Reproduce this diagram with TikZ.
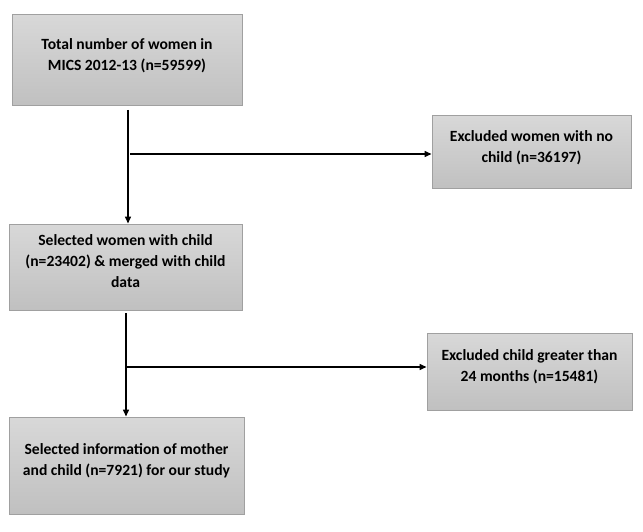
\documentclass[tikz,border=0pt]{standalone}
\usepackage{fontspec}
\setmainfont{Carlito}
\usetikzlibrary{arrows.meta,calc}
\definecolor{boxtop}{RGB}{216,216,216}
\definecolor{boxbottom}{RGB}{192,192,192}
\definecolor{boxline}{RGB}{160,160,160}

\begin{document}
\begin{tikzpicture}[
  x=1pt, y=1pt,
  mybox/.style={
    draw=boxline,
    line width=1pt,
    rectangle,
    top color=boxtop,
    bottom color=boxbottom,
    align=center,
    font=\fontsize{15.6}{21}\selectfont\bfseries,
    inner sep=0pt,
    text depth=12pt
    },
  myarrow/.style={line width=1.5pt, -{Triangle[length=7pt,width=6pt]}}
]
\useasboundingbox (0,0) rectangle (643,-532);

\node [mybox, minimum width=230, minimum height=91] (total) at (127,-60.5)
  {Total number of women in\\MICS 2012-13 (n=59599)};
\node [mybox, minimum width=199, minimum height=73] (excla) at (531.5,-152.5)
  {Excluded women with no\\child (n=36197)};
\node [mybox, minimum width=233, minimum height=86] (sel) at (125.5,-267)
  {Selected women with child\\(n=23402) \& merged with child\\data};
\node [mybox, minimum width=205, minimum height=77] (exclb) at (529.5,-371.5)
  {Excluded child greater than\\24 months (n=15481)};
\node [mybox, minimum width=235, minimum height=97] (final) at (126.5,-465.5)
  {Selected information of mother\\and child (n=7921) for our study};

% first step
\coordinate (ta) at (128,-110);
\coordinate (ba) at (130,-154);
\draw [myarrow] (ta) -- (ta |- sel.north);
\draw [myarrow] (ba) -- (ba -| excla.west);

% second step
\coordinate (tb) at (126,-313);
\coordinate (bb) at (126,-367);
\draw [myarrow] (tb) -- (tb |- final.north);
\draw [myarrow] (bb) -- (bb -| exclb.west);

\end{tikzpicture}
\end{document}
